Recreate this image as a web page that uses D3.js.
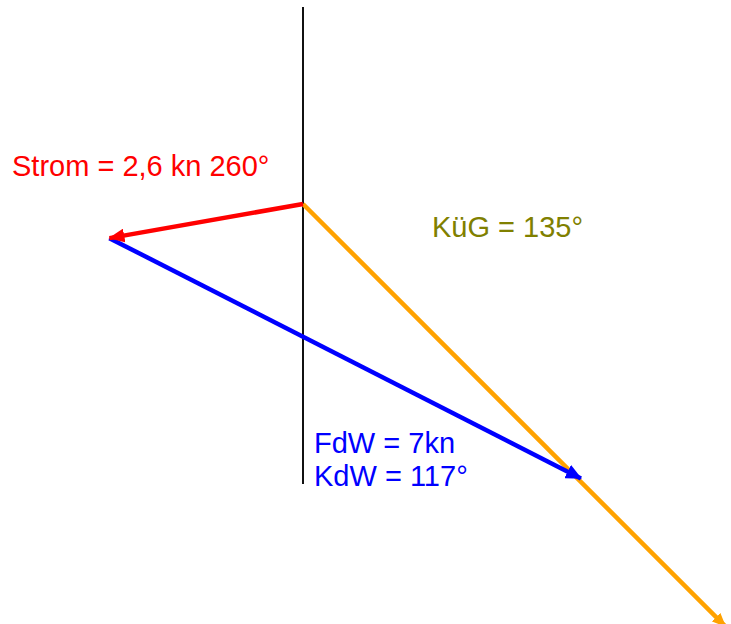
<!DOCTYPE html>
<html>
<head>
<meta charset="utf-8">
<script src="https://cdn.jsdelivr.net/npm/d3@7"></script>
<style>
  body { margin: 0; background: #fff; }
  text { font-family: "Liberation Sans", Arial, sans-serif; }
</style>
</head>
<body>
<div id="chart_wrapper"></div>
<script>
// vectors: current (Strom) and water track (FdW / KdW)
var vectorNames = ["Strom", "FdW"];
var speeds = [2.6, 7];          // kn
var directions = [260, 117];    // degrees, nautical
var vectorColors = ["#ff0000", "#0000ff"];

// ground track (KüG), drawn as a long course line
var kuegDirection = 135;
var kuegLength = 7.9;           // kn, line extends past the resultant

var labelLines = [
  ["Strom = 2,6 kn 260°"],
  ["KüG = 135°"],
  ["FdW = 7kn", "KdW = 117°"]
];

var width = 731, height = 624;
var origin = { x: 303, y: 204 };

var svg = d3.select("#chart_wrapper").append("svg")
    .attr("width", width).attr("height", height);

// px per knot
var k = d3.scaleLinear().domain([0, 1]).range([0, 75.6]);

function step(p, speed, dir) {
  var r = dir * Math.PI / 180;
  return { x: p.x + k(speed) * Math.sin(r), y: p.y - k(speed) * Math.cos(r) };
}

var defs = svg.append("defs");
function marker(id, color, len, wid) {
  defs.append("marker")
      .attr("id", id)
      .attr("markerUnits", "userSpaceOnUse")
      .attr("viewBox", "0 0 " + len + " " + wid)
      .attr("refX", len - 1).attr("refY", wid / 2)
      .attr("markerWidth", len).attr("markerHeight", wid)
      .attr("orient", "auto")
    .append("path")
      .attr("d", "M0,0L" + len + "," + (wid / 2) + "L0," + wid + "Z")
      .attr("fill", color);
}
marker("m0", vectorColors[0], 16, 14);
marker("m1", vectorColors[1], 16, 15);
marker("mk", "#ffa200", 14, 12);

// north line
svg.append("line")
    .attr("x1", origin.x).attr("y1", 7)
    .attr("x2", origin.x).attr("y2", 484)
    .attr("stroke", "#111").attr("stroke-width", 2);

// ground track
var kEnd = step(origin, kuegLength, kuegDirection);
svg.append("line")
    .attr("x1", origin.x).attr("y1", origin.y)
    .attr("x2", kEnd.x).attr("y2", kEnd.y)
    .attr("stroke", "#ffa200").attr("stroke-width", 4.5)
    .attr("marker-end", "url(#mk)");

// chained vectors: current first, then water track from its tip
var p = origin;
var segs = [];
speeds.forEach(function(s, i) {
  var q = step(p, s, directions[i]);
  segs.push({ from: p, to: q, i: i });
  p = q;
});

svg.selectAll("line.vec")
    .data(segs.slice().reverse())
    .enter().append("line")
      .attr("class", "vec")
      .attr("x1", function(d) { return d.from.x; })
      .attr("y1", function(d) { return d.from.y; })
      .attr("x2", function(d) { return d.to.x; })
      .attr("y2", function(d) { return d.to.y; })
      .attr("stroke", function(d) { return vectorColors[d.i]; })
      .attr("stroke-width", 4.5)
      .attr("marker-end", function(d) { return "url(#m" + d.i + ")"; });

// labels
var labelPos = [{ x: 12, y: 176 }, { x: 432, y: 237 }, { x: 314, y: 453 }];
var labelColors = ["#ff0000", "#808000", "#0000ff"];
labelLines.forEach(function(lines, i) {
  var t = svg.append("text")
      .attr("x", labelPos[i].x).attr("y", labelPos[i].y)
      .attr("fill", labelColors[i])
      .style("font-size", "29px");
  lines.forEach(function(l, j) {
    t.append("tspan").attr("x", labelPos[i].x).attr("dy", j ? 33 : 0).text(l);
  });
});
</script>
</body>
</html>
